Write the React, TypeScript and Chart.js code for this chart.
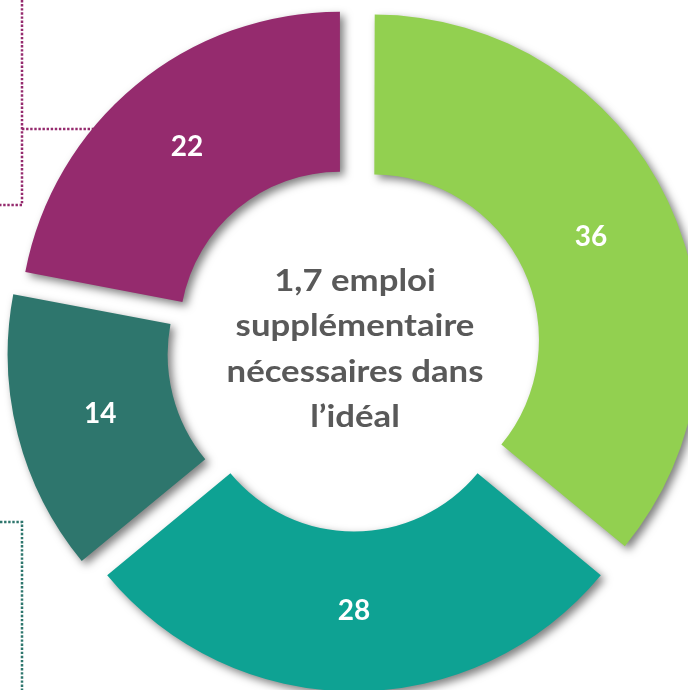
import React, { useEffect, useRef } from "react";
import { Chart, registerables } from "chart.js";

Chart.register(...registerables);

const categories = ["A", "B", "C", "D"];
const values = [36, 28, 14, 22];
const colors = ["#92D050", "#0EA293", "#2E766D", "#952B6E"];
const centerLines = ["1,7 emploi", "supplémentaire", "nécessaires dans", "l\u2019idéal"];

const LABEL_FONT = "bold 28px Lato, 'Open Sans', sans-serif";
const CENTER_FONT = "bold 31px Lato, 'Open Sans', sans-serif";
const SLICE_OFFSET = 88; // Chart.js draws offset/4 => 22px

const decorPlugin = {
  id: "decor",
  beforeDatasetsDraw(chart: any) {
    const ctx = chart.ctx as CanvasRenderingContext2D;
    ctx.save();
    ctx.lineWidth = 2.5;
    ctx.setLineDash([2.4, 1.7]);
    ctx.lineCap = "butt";
    ctx.strokeStyle = colors[3];
    ctx.beginPath();
    ctx.moveTo(22, 0);
    ctx.lineTo(22, 205);
    ctx.lineTo(0, 205);
    ctx.moveTo(22, 129);
    ctx.lineTo(110, 129);
    ctx.stroke();
    ctx.strokeStyle = colors[2];
    ctx.beginPath();
    ctx.moveTo(0, 522);
    ctx.lineTo(22, 522);
    ctx.lineTo(22, 690);
    ctx.stroke();
    ctx.restore();
  },
  beforeDatasetDraw(chart: any) {
    const ctx = chart.ctx as CanvasRenderingContext2D;
    ctx.save();
    ctx.shadowColor = "rgba(0,0,0,0.5)";
    ctx.shadowBlur = 8;
    ctx.shadowOffsetX = 4;
    ctx.shadowOffsetY = 4;
  },
  afterDatasetDraw(chart: any) {
    chart.ctx.restore();
  },
  afterDatasetsDraw(chart: any) {
    const ctx = chart.ctx as CanvasRenderingContext2D;
    const meta = chart.getDatasetMeta(0);
    const offset = (chart.data.datasets[0].offset as number) / 4;
    ctx.save();
    ctx.fillStyle = "#ffffff";
    ctx.font = LABEL_FONT;
    ctx.textAlign = "center";
    ctx.textBaseline = "middle";
    let cx = 0;
    let cy = 0;
    meta.data.forEach((arc: any, i: number) => {
      const p = arc.getProps(["x", "y", "startAngle", "endAngle", "innerRadius", "outerRadius"], true);
      cx = p.x;
      cy = p.y;
      const mid = (p.startAngle + p.endAngle) / 2;
      const r = (p.innerRadius + p.outerRadius) / 2 + offset;
      ctx.fillText(String(values[i]), p.x + Math.cos(mid) * r, p.y + Math.sin(mid) * r);
    });
    ctx.fillStyle = "#595959";
    ctx.font = CENTER_FONT;
    const lh = 45.5;
    ctx.translate(cx + 1, cy);
    ctx.scale(1.12, 1);
    centerLines.forEach((line, i) => {
      ctx.fillText(line, 0, (i - (centerLines.length - 1) / 2) * lh);
    });
    ctx.restore();
  },
};

export default function App() {
  const ref = useRef<HTMLCanvasElement>(null);
  useEffect(() => {
    document.body.style.margin = "0";
    const chart = new Chart(ref.current!, {
      type: "doughnut",
      data: {
        labels: categories,
        datasets: [
          {
            data: values,
            backgroundColor: colors,
            borderWidth: 0,
            offset: SLICE_OFFSET,
            hoverOffset: 0,
          } as any,
        ],
      },
      options: {
        responsive: false,
        animation: false,
        radius: 320,
        cutout: "50%",
        layout: { padding: { left: 20, top: 8, right: 0, bottom: 0 } },
        plugins: { legend: { display: false }, tooltip: { enabled: false } },
        events: [],
      } as any,
      plugins: [decorPlugin],
    });
    return () => chart.destroy();
  }, []);
  return (
    <div style={{ width: 688, height: 690 }}>
      <canvas ref={ref} width={688} height={690} />
    </div>
  );
}
